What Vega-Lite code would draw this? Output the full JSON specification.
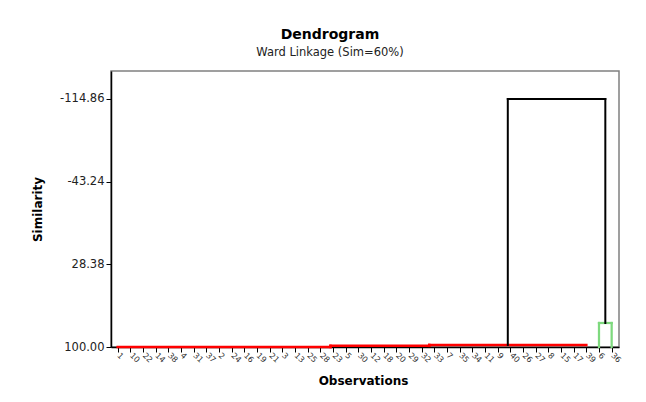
{
  "$schema": "https://vega.github.io/schema/vega-lite/v6.json",
  "autosize": "none",
  "width": 508,
  "height": 276,
  "padding": {"left": 111, "top": 71, "right": 27, "bottom": 55},
  "background": "white",
  "title": {
    "text": "Dendrogram",
    "subtitle": "Ward Linkage (Sim=60%)",
    "anchor": "middle",
    "frame": "group",
    "dx": -35,
    "offset": 13,
    "font": "DejaVu Sans",
    "fontSize": 14,
    "fontWeight": "bold",
    "color": "#000000",
    "subtitleFont": "DejaVu Sans",
    "subtitleFontSize": 11.5,
    "subtitleColor": "#222222",
    "subtitlePadding": 5
  },
  "config": {
    "view": {"stroke": "#808080", "strokeWidth": 1.5},
    "axis": {"grid": false}
  },
  "data": {
    "values": [
      {"x": 0, "x2": 16.8, "y": 100, "y2": 100, "grp": "red"},
      {"x": 16.8, "x2": 24.6, "y": 99.0, "y2": 99.0, "grp": "red"},
      {"x": 16.8, "x2": 16.8, "y": 100, "y2": 99.0, "grp": "red"},
      {"x": 24.6, "x2": 37, "y": 98.2, "y2": 98.2, "grp": "red"},
      {"x": 24.6, "x2": 24.6, "y": 99.0, "y2": 98.2, "grp": "red"},
      {"x": 38, "x2": 38, "y": 100, "y2": 79.2, "grp": "green"},
      {"x": 39, "x2": 39, "y": 100, "y2": 79.2, "grp": "green"},
      {"x": 38, "x2": 39, "y": 79.2, "y2": 79.2, "grp": "green"},
      {"x": 30.8, "x2": 30.8, "y": 98.2, "y2": -114.86, "grp": "black"},
      {"x": 30.8, "x2": 38.5, "y": -114.86, "y2": -114.86, "grp": "black"},
      {"x": 38.5, "x2": 38.5, "y": -114.86, "y2": 79.2, "grp": "black"}
    ]
  },
  "mark": {"type": "rule", "strokeCap": "square"},
  "encoding": {
    "x": {
      "field": "x",
      "type": "quantitative",
      "scale": {"domain": [-0.53, 39.58], "nice": false, "zero": false},
      "axis": {
        "title": "Observations",
        "titleFont": "DejaVu Sans",
        "titleFontSize": 12,
        "titleFontWeight": "bold",
        "titleColor": "#000000",
        "titleX": 252,
        "titleY": 33,
        "titleBaseline": "middle",
        "titleAlign": "center",
        "values": [0,1,2,3,4,5,6,7,8,9,10,11,12,13,14,15,16,17,18,19,20,21,22,23,24,25,26,27,28,29,30,31,32,33,34,35,36,37,38,39],
        "labelExpr": "['1','10','22','14','38','4','31','37','2','24','16','19','21','3','13','25','28','23','5','30','12','18','20','29','32','33','7','35','34','11','9','40','26','27','8','15','17','39','6','36'][datum.value]",
        "labelAngle": 45,
        "labelAlign": "left",
        "labelBaseline": "middle",
        "labelFont": "DejaVu Sans",
        "labelFontSize": 8,
        "labelColor": "#333333",
        "labelOverlap": false,
        "labelPadding": 2,
        "tickSize": 5,
        "tickColor": "#000000",
        "domainColor": "#000000",
        "domainWidth": 1.5
      }
    },
    "x2": {"field": "x2"},
    "y": {
      "field": "y",
      "type": "quantitative",
      "scale": {"domain": [100, -139.1], "nice": false, "zero": false},
      "axis": {
        "title": "Similarity",
        "titleFont": "DejaVu Sans",
        "titleFontSize": 12,
        "titleFontWeight": "bold",
        "titleColor": "#000000",
        "titleX": -74,
        "titleY": 138,
        "titleBaseline": "middle",
        "titleAlign": "center",
        "values": [100, 28.38, -43.24, -114.86],
        "labelExpr": "datum.value < 0 ? '-' + format(-datum.value, '.2f') : format(datum.value, '.2f')",
        "labelFont": "DejaVu Sans",
        "labelFontSize": 11.5,
        "labelColor": "#222222",
        "labelPadding": 2,
        "tickSize": 5,
        "tickColor": "#000000",
        "domainColor": "#000000",
        "domainWidth": 1.5
      }
    },
    "y2": {"field": "y2"},
    "color": {
      "field": "grp",
      "type": "nominal",
      "scale": {"domain": ["red", "green", "black"], "range": ["#ff0000", "#7ed97e", "#000000"]},
      "legend": null
    },
    "strokeWidth": {
      "field": "grp",
      "type": "nominal",
      "scale": {"domain": ["red", "green", "black"], "range": [2.5, 2, 2]},
      "legend": null
    }
  }
}
